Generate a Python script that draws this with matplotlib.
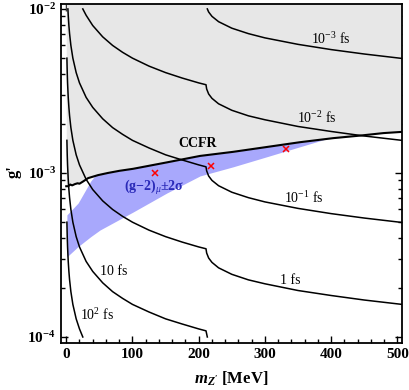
import numpy as np
import matplotlib.pyplot as plt
from matplotlib.ticker import MultipleLocator, LogLocator, NullFormatter, FixedLocator

plt.rcParams['font.family'] = ['Liberation Serif', 'DejaVu Serif']
plt.rcParams['mathtext.fontset'] = 'custom'
plt.rcParams['mathtext.rm'] = 'Liberation Serif'
plt.rcParams['mathtext.it'] = 'Liberation Serif:italic'
plt.rcParams['mathtext.bf'] = 'Liberation Serif:bold'
plt.rcParams['mathtext.bfit'] = 'Liberation Serif:italic:bold'

# CCFR bound (m in MeV, g')
ccfr_m = [0, 3, 6, 9, 13, 17, 20, 25, 33, 48, 63, 80, 101, 152, 202, 252, 303, 353, 403, 444, 479, 507]
ccfr_g = [0.83e-3, 0.83e-3, 0.85e-3, 0.84e-3, 0.855e-3, 0.865e-3, 0.86e-3, 0.885e-3, 0.93e-3, 0.97e-3,
          1.0e-3, 1.03e-3, 1.06e-3, 1.16e-3, 1.27e-3, 1.345e-3, 1.44e-3, 1.54e-3, 1.63e-3, 1.69e-3,
          1.75e-3, 1.78e-3]

# (g-2)_mu 2 sigma band
band_m = [1, 18, 37, 51, 101, 152, 202, 252, 303, 353, 403, 507]
band_lo = [0.308e-3, 0.356e-3, 0.409e-3, 0.449e-3, 0.578e-3, 0.755e-3, 0.959e-3, 1.09e-3, 1.256e-3,
           1.445e-3, 1.66e-3, 2.1e-3]
band_hi = [0.555e-3, 0.656e-3, 0.893e-3, 1.05e-3, 1.4e-3, 1.7e-3, 1.96e-3, 2.2e-3, 2.4e-3,
           2.6e-3, 2.8e-3, 3.2e-3]

# lifetime contours
m_a = [213, 215, 220, 230, 250, 275, 300, 350, 400, 450, 507]
tau_1e3 = [1.0e-2, 0.00958, 0.00901, 0.00836, 0.00763, 0.00707, 0.00666, 0.00608, 0.00565, 0.00531, 0.00499]

m_b = [25, 30, 40, 55, 70, 85, 100, 125, 150, 175, 200, 211, 212, 215, 220, 230, 250, 275, 300, 350, 400, 450, 507]
tau_1e2 = [0.0100, 0.00915, 0.00792, 0.00676, 0.00599, 0.00544, 0.00501, 0.00448, 0.00409, 0.00379, 0.00354,
           0.00345, 0.00325, 0.00303, 0.00285, 0.00264, 0.00241, 0.00223, 0.00211, 0.00192, 0.00179,
           0.00168, 0.00158]

m_c = [2.5, 3, 4, 5, 7, 10, 15, 20, 30, 40, 55, 70, 85, 100, 125, 150, 175, 200, 211, 212, 215, 220, 230,
       250, 275, 300, 350, 400, 450, 507]
tau_1e1 = [0.0100, 0.00915, 0.00792, 0.00709, 0.00599, 0.00501, 0.00409, 0.00354, 0.00289, 0.00251,
           0.00214, 0.00189, 0.00172, 0.00158, 0.00142, 0.00129, 0.00120, 0.00112, 0.00109, 0.00103,
           0.000958, 0.000901, 0.000836, 0.000763, 0.000707, 0.000666, 0.000608, 0.000565, 0.000531, 0.000499]

m_d = [1, 1.5, 2, 3, 4, 5, 7, 10, 15, 20, 30, 40, 55, 70, 85, 100, 125, 150, 175, 200, 211, 212, 215, 220,
       230, 250, 275, 300, 350, 400, 450, 507]
tau_1 = [0.00501, 0.00409, 0.00354, 0.00289, 0.00251, 0.00224, 0.00189, 0.00158, 0.00129, 0.00112,
         0.000915, 0.000792, 0.000676, 0.000599, 0.000544, 0.000501, 0.000448, 0.000409, 0.000379,
         0.000354, 0.000345, 0.000325, 0.000303, 0.000285, 0.000264, 0.000241, 0.000223, 0.000211,
         0.000192, 0.000179, 0.000168, 0.000158]

m_e = [1, 1.5, 2, 3, 4, 5, 7, 10, 15, 20, 30, 40, 55, 70, 85, 100, 125, 150, 175, 200, 211, 213]
tau_10 = [0.00158, 0.00129, 0.00112, 0.000915, 0.000792, 0.000709, 0.000599, 0.000501, 0.000409,
          0.000354, 0.000289, 0.000251, 0.000214, 0.000189, 0.000172, 0.000158, 0.000142, 0.000129,
          0.000120, 0.000112, 0.000109, 0.000100]

m_f = [1, 1.5, 2, 3, 4, 5, 7, 10, 15, 20, 25]
tau_100 = [0.000501, 0.000409, 0.000354, 0.000289, 0.000251, 0.000224, 0.000189, 0.000158, 0.000129,
           0.000112, 0.000100]

# benchmark points
bench_m = [134, 219, 332]
bench_g = [0.995e-3, 1.10e-3, 1.40e-3]

fig = plt.figure(figsize=(4.09, 3.9), dpi=100)
ax = fig.add_axes([0.149, 0.1205, 0.834, 0.8695])
ax.set_yscale('log')
ax.set_xlim(-8, 507)
ax.set_ylim(9.19e-5, 1.073e-2)

ax.fill_between(band_m, band_lo, band_hi, color='#a8a8fc', lw=0, zorder=1)
ax.fill_between(ccfr_m, ccfr_g, 1.1e-2, color='#e7e7e7', lw=0, zorder=2)
ax.plot(ccfr_m, ccfr_g, color='k', lw=1.5, zorder=4)

for mm, gg in [(m_a, tau_1e3), (m_b, tau_1e2), (m_c, tau_1e1), (m_d, tau_1), (m_e, tau_10), (m_f, tau_100)]:
    ax.plot(mm, gg, color='k', lw=1.1, zorder=3)

ax.plot(bench_m, bench_g, 'x', color='red', ms=5, mew=1.1, zorder=5)

lab = dict(fontsize=10, ha='center', va='center', zorder=6)
ax.text(399, 10**-2.185, r'10$^{-3}$ fs', **lab)
ax.text(378, 10**-2.667, r'10$^{-2}$ fs', **lab)
ax.text(358, 10**-3.154, r'10$^{-1}$ fs', **lab)
ax.text(338, 10**-3.657, '1 fs', **lab)
ax.text(71, 10**-3.598, '10 fs', **lab)
ax.text(46, 10**-3.866, r'10$^{2}$ fs', **lab)
ax.text(199, 10**-2.823, 'CCFR', fontsize=10, fontweight='bold', ha='center', va='center', zorder=6)
ax.text(133, 10**-3.091, r'(g−2)$_{\mu}$±2σ', fontsize=10, fontweight='bold', color='#2a2ab8',
        ha='center', va='center', zorder=6)

ax.xaxis.set_major_locator(MultipleLocator(100))
ax.xaxis.set_minor_locator(MultipleLocator(20))
ax.yaxis.set_major_locator(FixedLocator([1e-4, 1e-3, 1e-2]))
ax.yaxis.set_minor_locator(LogLocator(base=10, subs=np.arange(2, 10)))
ax.yaxis.set_minor_formatter(NullFormatter())
ax.set_yticklabels([r'$\mathbf{10^{-4}}$', r'$\mathbf{10^{-3}}$', r'$\mathbf{10^{-2}}$'])
for t in ax.get_xticklabels():
    t.set_fontweight('bold')
ax.tick_params(which='both', direction='in', top=True, right=True, labelsize=11, width=1)
ax.tick_params(which='major', length=5)
ax.tick_params(which='minor', length=3)
for s in ax.spines.values():
    s.set_linewidth(1.3)

ax.set_xlabel(r"$\mathbfit{m}_{\mathbfit{Z'}}$ [MeV]", fontsize=12, fontweight='bold', labelpad=6)
fig.text(14 / 409, 1 - 172 / 390, "g'", fontsize=12, fontweight='bold', rotation=90,
         ha='center', va='center')

fig.savefig('out.png', dpi=100)
